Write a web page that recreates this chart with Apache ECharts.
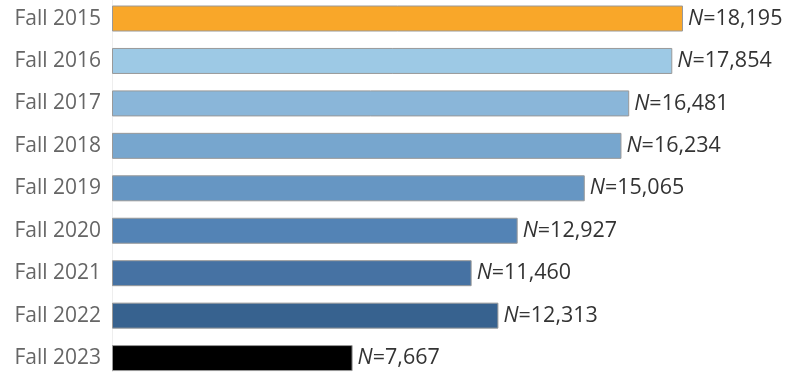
<!DOCTYPE html>
<html><head><meta charset="utf-8">
<script src="https://cdn.jsdelivr.net/npm/echarts@6/dist/echarts.min.js"></script>
<style>html,body{margin:0;padding:0;background:#fff}#c{width:789px;height:372px}</style>
</head><body><div id="c"></div>
<script>
const categories = ["Fall 2015","Fall 2016","Fall 2017","Fall 2018","Fall 2019","Fall 2020","Fall 2021","Fall 2022","Fall 2023"];
const values = [18195,17854,16481,16234,15065,12927,11460,12313,7667];
const colors = ["#F9A729","#9DC9E5","#8AB6D9","#77A6CE","#6696C3","#5383B5","#4672A3","#37628F","#000000"];

const chart = echarts.init(document.getElementById('c'));
chart.setOption({
  animation:false,
  grid:{left:112,top:-2.7,height:382,width:571,outerBoundsMode:'none',containLabel:false},
  xAxis:{type:'value',min:0,max:18195,show:false},
  yAxis:{type:'category',data:categories,inverse:true,
    axisLine:{show:true,lineStyle:{color:'#eeeeee',width:1}},
    axisTick:{show:false},
    axisLabel:{color:'#666666',fontSize:21,fontFamily:'Open Sans',margin:11}},
  series:[{type:'bar',barWidth:26,
    data:values.map((v,i)=>({value:v,itemStyle:{color:colors[i]}})),
    itemStyle:{borderColor:'#999999',borderWidth:1},
    label:{show:true,position:'right',distance:5,fontSize:21.5,fontFamily:'Open Sans',color:'#333333',
      formatter:p=>'{i|N}='+p.value.toLocaleString('en-US'),
      rich:{i:{fontStyle:'italic',fontSize:21.5,fontFamily:'Open Sans',color:'#333333'}}}
  }]
});
</script></body></html>
